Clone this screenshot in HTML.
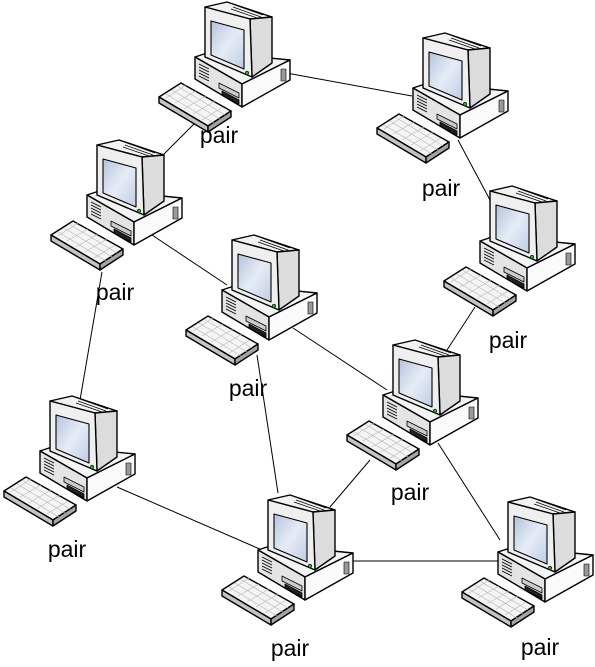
<!DOCTYPE html>
<html><head><style>
html,body{margin:0;padding:0;background:#fff;}
svg{display:block;}
text{font-family:"Liberation Sans",sans-serif;font-size:23px;fill:#000;}
</style></head><body>
<svg width="595" height="667" viewBox="0 0 595 667" xmlns="http://www.w3.org/2000/svg">
<defs>
<linearGradient id="scr" x1="0" y1="0" x2="1" y2="1">
<stop offset="0" stop-color="#b4c3de"/><stop offset="0.5" stop-color="#e6ecf6"/><stop offset="1" stop-color="#c0cce3"/></linearGradient>
<g id="pc" stroke="#000" stroke-width="1.4" stroke-linejoin="round">
<polygon points="-10,50 5,45 85,53 37,77" fill="#f4f4f4"/>
<polygon points="-10,50 37,77 37,100 -10,72" fill="#e4e4e4"/>
<polygon points="37,77 85,53 85,73 37,100" fill="#fafafa"/>
<g stroke-width="0.8"><line x1="-6" y1="57" x2="4" y2="62"/><line x1="-6" y1="60" x2="4" y2="65"/><line x1="-6" y1="63" x2="4" y2="68"/><line x1="-6" y1="66" x2="4" y2="71"/><line x1="-6" y1="69" x2="4" y2="74"/></g>
<polygon points="14,76 34,86 34,91 14,81" fill="#ccc" stroke-width="0.8"/>
<polygon points="17,84 34,93 34,97 17,88" fill="#222" stroke-width="0.8"/>
<rect x="76" y="62" width="5" height="12" fill="#999" stroke-width="0.6"/>
<polygon points="0,0 22,-5 67,10 45,12" fill="#f2f2f2"/>
<polygon points="45,12 67,10 67,56 47,70" fill="#dcdcdc"/>
<polygon points="0,0 45,12 47,70 0,50" fill="#efefef"/>
<polygon points="6,14 39,23 39,62 6,48" fill="url(#scr)" stroke-width="1.1"/>
<g stroke-width="0.7"><line x1="30" y1="-2" x2="58" y2="8"/><line x1="28" y1="0" x2="56" y2="10"/><line x1="26" y1="2" x2="52" y2="11"/></g>
<circle cx="42" cy="66" r="1.8" fill="#3a3" stroke-width="0.6"/>
<polygon points="-46,90 -24,76 26,104 3,119" fill="#f4f4f4"/>
<polygon points="-46,90 3,119 3,125 -46,96" fill="#c4c4c4"/>
<polygon points="3,119 26,104 26,110 3,125" fill="#a4a4a4"/>
<g stroke="#bbb" stroke-width="0.7"><line x1="-39" y1="91" x2="-19" y2="78"/><line x1="-30" y1="96" x2="-9" y2="84"/><line x1="-21" y1="102" x2="1" y2="89"/><line x1="-12" y1="107" x2="10" y2="94"/><line x1="-3" y1="113" x2="18" y2="100"/>
<line x1="-39" y1="87" x2="9" y2="116"/><line x1="-33" y1="83" x2="15" y2="112"/><line x1="-28" y1="79" x2="20" y2="108"/></g>
</g>
</defs>
<g stroke="#000" stroke-width="1">
<line x1="270" y1="70" x2="412" y2="96"/>
<line x1="200" y1="118" x2="160" y2="158"/>
<line x1="458" y1="140" x2="490" y2="200"/>
<line x1="152" y1="235" x2="227" y2="285"/>
<line x1="102" y1="272" x2="80" y2="400"/>
<line x1="293" y1="328" x2="387" y2="390"/>
<line x1="257" y1="355" x2="278" y2="493"/>
<line x1="475" y1="307" x2="447" y2="350"/>
<line x1="370" y1="460" x2="330" y2="507"/>
<line x1="438" y1="443" x2="500" y2="540"/>
<line x1="117" y1="487" x2="262" y2="550"/>
<line x1="353" y1="561" x2="498" y2="561"/>
</g>
<use href="#pc" x="205" y="7"/>
<use href="#pc" x="423" y="38"/>
<use href="#pc" x="97" y="145"/>
<use href="#pc" x="232" y="240"/>
<use href="#pc" x="490" y="191"/>
<use href="#pc" x="393" y="345"/>
<use href="#pc" x="50" y="401"/>
<use href="#pc" x="268" y="500"/>
<use href="#pc" x="508" y="502"/>
<g text-anchor="middle">
<text x="219" y="143">pair</text>
<text x="441" y="196">pair</text>
<text x="115" y="300">pair</text>
<text x="248" y="396">pair</text>
<text x="508" y="348">pair</text>
<text x="410" y="500">pair</text>
<text x="67" y="557">pair</text>
<text x="290" y="656">pair</text>
<text x="540" y="655">pair</text>
</g>
</svg>
</body></html>
